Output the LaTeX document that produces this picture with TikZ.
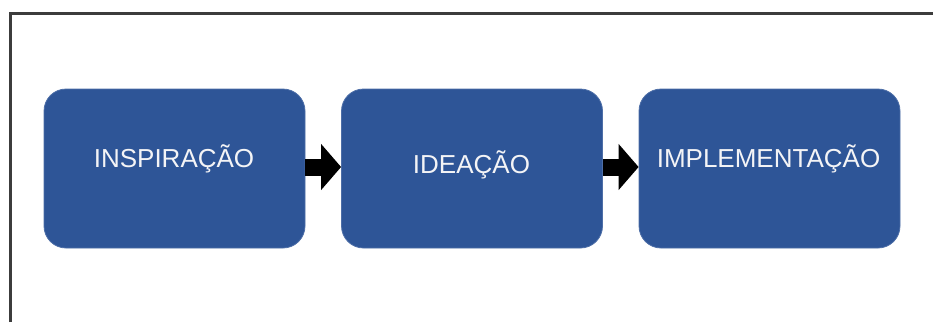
\documentclass[tikz,border=0pt]{standalone}
\usepackage{fontspec}
\setmainfont{Liberation Sans}
\usetikzlibrary{arrows.meta}
\definecolor{boxblue}{RGB}{46,85,151}
\definecolor{frameg}{RGB}{60,60,60}
\definecolor{txtw}{RGB}{244,244,246}
\begin{document}
\begin{tikzpicture}[x=1pt,y=-1pt,
  stage/.style={draw=boxblue!85!white, line width=0.8pt, fill=boxblue, rounded corners=22pt,
    minimum width=261pt, minimum height=159pt, inner sep=0pt},
  lbl/.style={text=txtw, font=\fontsize{26}{30}\selectfont, anchor=base, inner sep=0pt},
  flow/.style={line width=17pt, draw=black, -{Triangle[length=20pt,width=45pt]}}]
\useasboundingbox (0,0) rectangle (933,322);
\draw[line width=3pt, frameg] (10.5,322) -- (10.5,13.5) -- (933,13.5);
\node[stage] (b1) at (174.5,168.5) {};
\node[stage] (b2) at (472,168.5) {};
\node[stage] (b3) at (769.5,168.5) {};
\node[lbl] (t1) at (174,167) {INSPIRAÇÃO};
\node[lbl] (t2) at (471.5,173) {IDEAÇÃO};
\node[lbl] (t3) at (768.5,167) {IMPLEMENTAÇÃO};
\draw[flow] ([yshift=1.5pt]b1.east) -- ([yshift=1.5pt]b2.west);
\draw[flow] ([yshift=1.5pt]b2.east) -- ([yshift=1.5pt]b3.west);
\end{tikzpicture}
\end{document}
